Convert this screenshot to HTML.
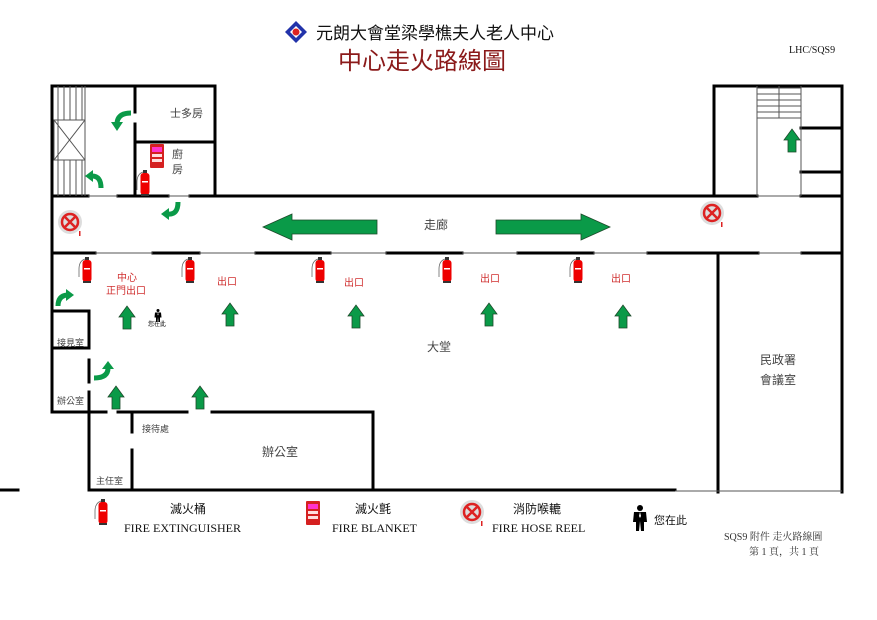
<!DOCTYPE html>
<html><head><meta charset="utf-8"><style>
body{margin:0;background:#fff}
svg{display:block}
text{font-family:"Liberation Sans","Noto Sans CJK TC",sans-serif}
.s{font-family:"Liberation Serif","Noto Serif CJK SC",serif}
</style></head><body>
<svg width="877" height="620" viewBox="0 0 877 620" xmlns="http://www.w3.org/2000/svg">
<defs>
<g id="up"><path d="M-4,12 L-4,0 L-8,0 L0,-11 L8,0 L4,0 L4,12 Z" fill="#0a9a48" stroke="#1d4a2a" stroke-width="0.8"/></g>
<g id="ext"><path d="M-2,-11 q-6,2 -6,10 l0,8" fill="none" stroke="#666" stroke-width="0.8"/><rect x="-4.5" y="-10" width="9" height="22" rx="3" fill="#e00"/><rect x="-2" y="-13" width="4" height="3" fill="#333"/><rect x="-3" y="-2" width="6" height="1.5" fill="#fff"/><rect x="-4" y="11" width="8" height="2" fill="#333"/></g>
<g id="hose"><circle r="12" fill="#ddd"/><circle r="8" fill="none" stroke="#d22" stroke-width="2.5"/><path d="M-5,-5 L5,5 M5,-5 L-5,5" stroke="#d22" stroke-width="2.5"/><rect x="9" y="9" width="1.5" height="5" fill="#d22"/></g>
<g id="blanket"><rect x="-7" y="-12" width="14" height="24" rx="1" fill="#d52020"/><rect x="-5" y="-9" width="10" height="5" fill="#f3c"/><rect x="-5" y="-2" width="10" height="3" fill="#fdd"/><rect x="-5" y="3" width="10" height="3" fill="#fdd"/></g>
<g id="man"><circle cx="0" cy="-9" r="3" fill="#000"/><path d="M-6,-5 L6,-5 L7,5 L4,5 L4,14 L1,14 L0,4 L-1,14 L-4,14 L-4,5 L-7,5 Z" fill="#000"/><path d="M0,-5 l-1,4 l1,2 l1,-2 z" fill="#fff"/></g>
</defs>

<!-- title -->
<g transform="translate(296,32)"><path d="M0,-11 L11,0 L0,11 L-11,0 Z" fill="#2233aa"/><path d="M0,-6 L6,0 L0,6 L-6,0 Z" fill="#fff"/><circle r="3.5" fill="#d22"/></g>
<text x="316" y="39" font-size="17" fill="#111">元朗大會堂梁學樵夫人老人中心</text>
<text x="338" y="69" font-size="24" fill="#8b1a1a">中心走火路線圖</text>
<text x="789" y="53" font-size="10" class="s" fill="#111">LHC/SQS9</text>

<g stroke="#000" stroke-width="3" fill="none" stroke-linecap="square">
<!-- left top block -->
<path d="M52,86 L215,86 L215,196"/>
<path d="M52,86 L52,252"/>
<path d="M135,86 L135,112 M135,124 L135,196"/>
<path d="M135,142 L215,142"/>
<!-- corridor top -->
<path d="M52,196 L88,196 M118,196 L168,196 M190,196 L714,196"/>
<!-- right block -->
<path d="M714,196 L714,86 L842,86 L842,492"/>
<path d="M714,196 L757,196 M801,196 L842,196"/>
<path d="M801,128 L842,128 M801,172 L842,172"/>
<!-- corridor bottom thick segments -->
<path d="M52,253 L95,253 M153,253 L199,253 M256,253 L330,253 M387,253 L462,253 M518,253 L593,253 M648,253 L758,253 M802,253 L842,253"/>
<!-- lobby -->
<path d="M52,253 L52,412"/>
<path d="M718,253 L718,492"/>
<path d="M52,311 L89,311 L89,348"/>
<path d="M52,348 L89,348"/>
<path d="M89,360 L89,382 M89,392 L89,412"/>
<path d="M52,412 L106,412 M118,412 L187,412 M212,412 L373,412 L373,490"/>
<path d="M89,412 L89,490 L675,490"/>
<path d="M132,412 L132,432 M132,450 L132,490"/>
<path d="M0,490 L18,490"/>
</g>
<g stroke="#555" stroke-width="1" fill="none">
<path d="M88,196 L118,196 M168,196 L190,196"/>
<path d="M95,253 L153,253 M199,253 L256,253 M330,253 L387,253 M462,253 L518,253 M593,253 L648,253 M758,253 L802,253"/>
<path d="M757,196 L801,196 M757,86 L757,196 M801,86 L801,196"/>
<path d="M757,88 L801,88 M757,94 L801,94 M757,100 L801,100 M757,106 L801,106 M757,112 L801,112 M757,118 L801,118 M779,86 L779,118"/>
<path d="M675,491 L842,491"/>
<path d="M58,86 L58,196 M64,86 L64,120 M70,86 L70,120 M76,86 L76,120 M82,86 L82,120 M64,160 L64,196 M70,160 L70,196 M76,160 L76,196 M82,160 L82,196"/>
<rect x="54" y="120" width="31" height="40"/>
<path d="M54,120 L85,160 M85,120 L54,160"/>
<path d="M85,86 L85,196"/>
</g>

<!-- big arrows -->
<path d="M263,227 L292,214 L292,220 L377,220 L377,234 L292,234 L292,240 Z" fill="#0a9a48" stroke="#1d4a2a" stroke-width="0.8"/>
<path d="M610,227 L581,214 L581,220 L496,220 L496,234 L581,234 L581,240 Z" fill="#0a9a48" stroke="#1d4a2a" stroke-width="0.8"/>

<g>
<use href="#up" x="127" y="317"/><use href="#up" x="230" y="314"/><use href="#up" x="356" y="316"/><use href="#up" x="489" y="314"/><use href="#up" x="623" y="316"/><use href="#up" x="116" y="397"/><use href="#up" x="200" y="397"/><use href="#up" x="792" y="140"/>
</g>
<!-- curved arrows -->
<g fill="none" stroke="#0a9a48" stroke-width="5" stroke-linejoin="round">
<path d="M131,113 Q118,113 117,123"/>
<path d="M101,188 Q101,176 92,176"/>
<path d="M178,202 Q178,215 168,214"/>
<path d="M58,306 Q58,296 67,295"/>
<path d="M94,378 Q108,378 108,368"/>
</g>
<g fill="#0a9a48">
<path d="M111,122 L123,122 L117,131 Z"/>
<path d="M93,170 L93,182 L85,176 Z"/>
<path d="M169,208 L169,220 L161,214 Z"/>
<path d="M66,289 L66,301 L74,295 Z"/>
<path d="M102,369 L114,369 L108,361 Z"/>
</g>

<g>
<use href="#ext" x="145" y="183"/><use href="#ext" x="87" y="270"/><use href="#ext" x="190" y="270"/><use href="#ext" x="320" y="270"/><use href="#ext" x="447" y="270"/><use href="#ext" x="578" y="270"/><use href="#ext" x="103" y="512"/>
<use href="#blanket" x="157" y="156"/><use href="#blanket" x="313" y="513"/>
<use href="#hose" x="70" y="222"/><use href="#hose" x="712" y="213"/><use href="#hose" x="472" y="512"/>
<use href="#man" x="158" y="315" transform="translate(158,315) scale(0.5) translate(-158,-315)"/><use href="#man" x="640" y="517"/>
</g>

<g font-size="11" fill="#444">
<text x="170" y="117">士多房</text>
<text x="172" y="158">廚</text><text x="172" y="173">房</text>
<text x="424" y="229" font-size="12">走廊</text>
<text x="427" y="351" font-size="12">大堂</text>
<text x="760" y="364" font-size="12">民政署</text><text x="760" y="384" font-size="12">會議室</text>
<text x="57" y="346" font-size="9">接見室</text>
<text x="57" y="404" font-size="9">辦公室</text>
<text x="142" y="432" font-size="9">接待處</text>
<text x="262" y="456" font-size="12">辦公室</text>
<text x="96" y="484" font-size="9">主任室</text>
</g>
<g font-size="10" fill="#d03030">
<text x="117" y="281">中心</text><text x="106" y="294">正門出口</text>
<text x="217" y="285">出口</text><text x="344" y="286">出口</text><text x="480" y="282">出口</text><text x="611" y="282">出口</text>
</g>
<text x="148" y="326" font-size="6" fill="#000">您在此</text>

<g fill="#111">
<text x="170" y="513" font-size="12">滅火桶</text>
<text x="124" y="532" font-size="12" class="s">FIRE EXTINGUISHER</text>
<text x="355" y="513" font-size="12">滅火氈</text>
<text x="332" y="532" font-size="12" class="s">FIRE BLANKET</text>
<text x="513" y="513" font-size="12">消防喉轆</text>
<text x="492" y="532" font-size="12" class="s">FIRE HOSE REEL</text>
<text x="654" y="524" font-size="11">您在此</text>
<text x="724" y="540" font-size="10" class="s" fill="#333">SQS9 附件 走火路線圖</text>
<text x="749" y="555" font-size="10" class="s" fill="#333">第 1 頁，共 1 頁</text>
</g>
</svg>
</body></html>
